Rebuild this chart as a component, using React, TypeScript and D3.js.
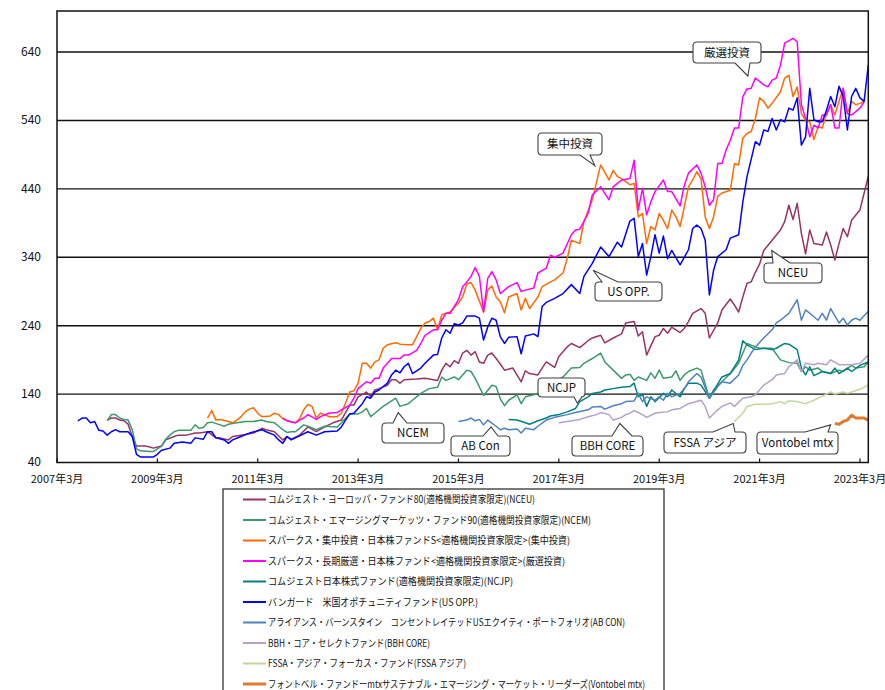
import React from 'react'
import * as d3 from 'd3'

// months counted from 2007年3月 (0) ; values = index
const nceu = [[12,102],[13,105],[14,105],[15,102],[16,101],[17,96],[18,78],[19,64],[21,64],[22,63],[23,61],[25,64],[26,73],[28,78],[29,80],[31,80],[33,83],[34,83],[36,85],[38,76],[39,76],[41,73],[42,78],[44,80],[47,83],[49,90],[50,88],[52,85],[54,73],[55,78],[56,74],[58,80],[60,92],[62,85],[64,92],[66,98],[68,102],[70,124],[71,124],[72,136],[74,143],[75,136],[76,146],[77,148],[79,153],[80,161],[81,161],[82,156],[83,161],[86,162],[88,163],[91,160],[92,175],[93,185],[94,180],[95,189],[96,185],[97,200],[98,204],[99,197],[100,202],[101,187],[102,185],[103,197],[104,200],[106,184],[107,175],[109,178],[111,158],[112,174],[113,170],[115,168],[116,178],[117,187],[119,179],[120,195],[122,209],[123,214],[125,208],[127,218],[128,222],[130,226],[131,215],[133,222],[135,228],[136,244],[138,246],[139,225],[140,231],[141,197],[143,224],[144,226],[145,236],[146,229],[147,238],[149,230],[150,236],[151,246],[152,258],[154,265],[155,258],[156,222],[158,244],[159,263],[161,279],[162,270],[163,260],[164,282],[165,302],[166,304],[167,318],[168,330],[169,350],[171,365],[173,380],[174,392],[175,416],[176,395],[177,419],[178,375],[179,345],[180,380],[181,360],[183,358],[184,377],[185,358],[186,336],[187,360],[188,382],[189,370],[190,394],[192,409],[193,434],[194,458]]

const ncem = [[12,101],[13,110],[14,110],[15,105],[16,103],[17,102],[18,88],[19,60],[20,57],[22,56],[23,56],[25,64],[26,74],[27,80],[28,85],[29,87],[32,87],[33,95],[34,90],[35,91],[36,98],[37,99],[39,95],[40,93],[41,96],[43,98],[45,100],[47,100],[49,102],[50,100],[52,98],[53,93],[54,88],[55,84],[56,85],[57,85],[58,90],[59,95],[60,93],[62,88],[64,93],[67,92],[68,98],[70,111],[72,111],[73,114],[74,119],[75,107],[76,112],[78,122],[79,126],[81,134],[82,122],[84,126],[85,131],[87,141],[89,148],[91,150],[92,165],[93,160],[95,165],[96,161],[98,175],[99,173],[100,163],[102,138],[104,153],[105,151],[106,133],[107,123],[108,131],[110,139],[111,126],[112,136],[114,139],[115,141],[117,151],[118,156],[120,161],[121,165],[123,178],[125,179],[126,185],[128,192],[130,200],[131,187],[133,175],[135,163],[136,168],[137,169],[138,160],[139,165],[141,160],[142,171],[143,163],[144,175],[145,163],[147,165],[148,174],[149,160],[150,168],[151,173],[153,178],[154,175],[156,134],[157,146],[159,158],[161,170],[163,185],[164,200],[165,214],[167,209],[168,207],[171,207],[173,190],[175,186],[177,185],[178,173],[179,180],[180,175],[182,178],[183,173],[185,170],[187,175],[188,173],[190,182],[191,178],[193,180],[194,187]]

const shuchu = [[36,105],[37,116],[38,102],[39,103],[41,100],[42,98],[43,102],[44,107],[45,114],[46,118],[47,120],[48,112],[49,107],[51,108],[52,112],[53,110],[54,104],[56,99],[57,98],[58,104],[59,117],[60,125],[61,122],[62,105],[63,112],[64,110],[65,107],[67,107],[68,112],[69,127],[70,143],[71,145],[72,156],[73,185],[74,185],[75,178],[76,187],[77,190],[78,207],[79,212],[81,215],[82,213],[84,212],[85,212],[86,224],[87,236],[88,244],[89,246],[90,251],[91,234],[92,256],[94,260],[96,273],[97,282],[98,301],[99,303],[100,292],[102,260],[103,292],[104,298],[105,282],[106,275],[107,259],[108,282],[110,287],[111,263],[112,280],[113,265],[115,282],[116,297],[118,304],[119,307],[121,317],[122,338],[123,365],[125,360],[126,392],[128,424],[130,475],[132,453],[133,467],[134,458],[135,455],[137,446],[138,448],[139,399],[140,404],[141,360],[142,385],[143,380],[144,404],[145,394],[146,382],[147,409],[148,399],[149,385],[150,414],[151,443],[152,453],[153,465],[154,455],[155,399],[156,382],[157,399],[158,429],[159,434],[161,438],[162,477],[163,475],[164,514],[165,521],[166,524],[167,543],[168,573],[169,568],[170,558],[171,565],[173,582],[174,602],[175,606],[176,575],[177,589],[178,550],[179,540],[180,538],[181,512],[182,531],[183,529],[184,550],[185,563],[186,548],[187,568],[188,587],[189,550],[190,568],[191,563],[192,565],[193,568]]

const gensen = [[54,105],[55,101],[57,98],[58,102],[59,105],[60,110],[62,103],[63,107],[65,112],[67,113],[68,117],[70,124],[71,134],[72,148],[74,158],[75,156],[76,163],[77,163],[78,178],[79,185],[80,192],[82,192],[83,197],[84,197],[86,204],[87,214],[88,226],[90,234],[91,234],[92,248],[93,258],[94,258],[96,278],[97,297],[98,304],[99,312],[100,325],[101,312],[102,260],[103,309],[104,319],[105,307],[106,287],[107,292],[108,297],[110,303],[111,290],[112,292],[114,295],[115,317],[117,324],[118,343],[119,340],[121,346],[123,373],[124,380],[125,381],[127,404],[128,431],[130,443],[132,424],[133,443],[135,453],[137,455],[138,482],[139,409],[140,441],[141,402],[142,421],[143,436],[145,453],[146,436],[147,436],[149,415],[150,445],[151,463],[153,475],[154,463],[155,443],[156,416],[157,424],[158,477],[159,477],[160,497],[161,511],[162,529],[163,529],[164,575],[165,586],[166,587],[167,602],[169,592],[170,589],[171,599],[172,602],[173,621],[174,653],[176,660],[177,655],[178,563],[179,543],[180,516],[181,533],[182,529],[183,548],[184,548],[185,563],[186,529],[187,529],[188,587],[189,550],[190,548],[191,553],[192,558],[193,567]]

const ncjp = [[108,103],[110,102],[112,98],[113,96],[115,101],[117,105],[118,108],[120,110],[122,114],[124,119],[125,129],[127,136],[128,141],[130,143],[131,146],[133,148],[135,150],[137,151],[138,156],[139,136],[140,140],[141,122],[142,136],[143,129],[145,141],[146,136],[147,146],[149,136],[150,148],[151,156],[153,156],[154,153],[156,134],[159,165],[161,170],[163,190],[164,218],[165,212],[167,205],[169,207],[171,205],[172,207],[174,214],[175,213],[177,205],[178,178],[179,168],[180,180],[181,167],[183,173],[185,170],[186,178],[187,170],[189,178],[190,173],[192,182],[194,187]]

const usOpp = [[5,101],[6,105],[7,105],[8,98],[9,100],[10,87],[11,86],[12,80],[13,85],[14,88],[15,85],[17,85],[18,78],[19,52],[20,48],[23,48],[24,52],[25,58],[27,61],[28,68],[30,70],[32,68],[33,76],[35,74],[36,85],[37,85],[38,76],[40,73],[41,68],[42,73],[44,78],[46,83],[49,88],[50,85],[52,80],[53,73],[54,68],[55,78],[56,73],[58,79],[60,85],[62,80],[64,85],[67,86],[68,92],[69,102],[70,111],[71,112],[73,126],[74,136],[75,134],[76,143],[77,146],[79,156],[80,168],[81,175],[82,171],[83,180],[84,185],[85,170],[87,178],[88,185],[90,197],[91,198],[92,222],[93,234],[94,229],[95,243],[96,241],[97,244],[98,254],[100,254],[101,251],[102,219],[103,238],[104,251],[105,248],[106,224],[107,214],[108,223],[110,224],[111,199],[112,225],[114,228],[115,224],[116,268],[117,274],[119,280],[121,287],[123,300],[125,287],[126,312],[128,331],[130,355],[132,341],[134,362],[135,355],[137,393],[138,397],[139,341],[140,360],[141,314],[142,341],[143,373],[144,346],[145,371],[146,338],[147,350],[149,329],[151,351],[152,382],[153,387],[154,382],[155,365],[156,285],[157,321],[158,341],[160,351],[161,368],[163,373],[164,421],[165,458],[167,509],[168,504],[169,526],[170,524],[171,543],[172,526],[173,541],[174,538],[175,558],[176,555],[177,573],[178,504],[179,516],[180,587],[181,541],[182,538],[183,538],[184,555],[185,575],[186,560],[187,590],[188,575],[189,526],[190,575],[191,587],[192,573],[193,568],[194,621]]

const abCon = [[96,100],[98,102],[99,105],[100,101],[101,103],[102,95],[103,102],[105,93],[106,88],[107,90],[108,88],[110,89],[111,83],[112,90],[114,88],[115,93],[117,102],[119,106],[122,110],[124,113],[127,117],[128,121],[130,122],[131,118],[133,123],[135,126],[136,129],[138,130],[139,141],[140,129],[141,136],[143,131],[144,136],[145,131],[146,141],[147,136],[149,141],[150,148],[151,158],[153,170],[154,165],[156,134],[158,151],[159,158],[161,156],[163,168],[164,182],[165,190],[166,200],[167,209],[169,222],[171,234],[172,244],[173,248],[175,258],[176,268],[177,278],[178,248],[179,263],[181,253],[182,248],[183,258],[184,248],[185,265],[187,244],[188,251],[189,241],[190,248],[191,251],[192,248],[194,261]]

const bbhCore = [[120,98],[122,100],[125,103],[127,107],[129,110],[130,113],[132,110],[133,102],[135,106],[136,110],[137,112],[138,116],[140,110],[141,106],[143,112],[144,113],[146,114],[147,117],[149,119],[151,126],[154,131],[155,122],[156,105],[158,117],[159,122],[161,127],[162,122],[164,134],[166,136],[167,139],[169,153],[171,161],[172,168],[174,170],[175,180],[177,190],[178,173],[179,185],[181,183],[182,185],[184,183],[185,190],[187,183],[188,183],[190,183],[192,185],[194,197]]

const fssa = [[162,100],[164,112],[165,122],[167,125],[169,125],[171,126],[173,129],[174,126],[175,130],[177,129],[179,126],[181,131],[182,134],[184,140],[185,143],[186,140],[188,143],[189,141],[190,143],[192,147],[194,153]]

const vontobel = [[186,97],[187,96],[188,100],[189,102],[190,109],[191,105],[193,105],[194,102]]

const seriesNames = [
  'コムジェスト・ヨーロッパ・ファンド80(適格機関投資家限定)(NCEU)',
  'コムジェスト・エマージングマーケッツ・ファンド90(適格機関投資家限定)(NCEM)',
  'スパークス・集中投資・日本株ファンドS<適格機関投資家限定>(集中投資)',
  'スパークス・長期厳選・日本株ファンド<適格機関投資家限定>(厳選投資)',
  'コムジェスト日本株式ファンド(適格機関投資家限定)(NCJP)',
  'バンガード　米国オポチュニティファンド(US OPP.)',
  'アライアンス・バーンスタイン　コンセントレイテッドUSエクイティ・ポートフォリオ(AB CON)',
  'BBH・コア・セレクトファンド(BBH CORE)',
  'FSSA・アジア・フォーカス・ファンド(FSSA アジア)',
  'フォントベル・ファンドーmtxサステナブル・エマージング・マーケット・リーダーズ(Vontobel mtx)',
]
const seriesData = [nceu, ncem, shuchu, gensen, ncjp, usOpp, abCon, bbhCore, fssa, vontobel]
const seriesColors = ['#993366', '#3A9A6A', '#FF6A00', '#FF00FF', '#008080', '#0000FF', '#4F81BD', '#B3A2C7', '#C3D69B', '#E07A2C']

const yTicks = [40, 140, 240, 340, 440, 540, 640]
const xTickMonths = [0, 24, 48, 72, 96, 120, 144, 168, 192]
const xTickLabels = ['2007年3月', '2009年3月', '2011年3月', '2013年3月', '2015年3月', '2017年3月', '2019年3月', '2021年3月', '2023年3月']

// callout labels, tip in data units
const calloutLabels = ['厳選投資', '集中投資', 'US OPP.', 'NCEU', 'NCEM', 'AB Con', 'NCJP', 'BBH CORE', 'FSSA アジア', 'Vontobel mtx']
const calloutTips = [[165.2, 605], [128.6, 474], [128.2, 321], [170.9, 350], [81.6, 113], [103.8, 92], [124.4, 127], [134.6, 97], [161.7, 97], [185, 95]]

// layout of the boxes (px)
const calloutBoxes = [
  {x: 693, y: 42, w: 68, h: 21, edge: 'bottom', b: [735, 750]},
  {x: 538, y: 133, w: 64, h: 22, edge: 'bottom', b: [580, 590]},
  {x: 595, y: 282, w: 67, h: 19, edge: 'top', b: [602, 618]},
  {x: 764, y: 263, w: 58, h: 20, edge: 'top', b: [773, 790]},
  {x: 382, y: 423, w: 62, h: 20, edge: 'top', b: [393, 407]},
  {x: 451, y: 436, w: 59, h: 20, edge: 'top', b: [483, 498]},
  {x: 538, y: 378, w: 47, h: 19, edge: 'bottom', b: [574, 582]},
  {x: 572, y: 436, w: 71, h: 20, edge: 'top', b: [612, 632]},
  {x: 664, y: 432, w: 82, h: 21, edge: 'top', b: [713, 735]},
  {x: 757, y: 432, w: 81, h: 22, edge: 'top', b: [805, 828]},
]
const legendTextWidths = [267, 323, 302, 297, 245, 210, 357, 162, 198, 377]

function calloutPath(bx, tip) {
  const r = 4
  const x0 = bx.x, y0 = bx.y, x1 = bx.x + bx.w, y1 = bx.y + bx.h
  const [bl, br] = bx.b
  let p = `M${x0 + r},${y0}`
  if (bx.edge === 'top') p += `L${bl},${y0}L${tip[0]},${tip[1]}L${br},${y0}`
  p += `L${x1 - r},${y0}Q${x1},${y0} ${x1},${y0 + r}L${x1},${y1 - r}Q${x1},${y1} ${x1 - r},${y1}`
  if (bx.edge === 'bottom') p += `L${br},${y1}L${tip[0]},${tip[1]}L${bl},${y1}`
  p += `L${x0 + r},${y1}Q${x0},${y1} ${x0},${y1 - r}L${x0},${y0 + r}Q${x0},${y0} ${x0 + r},${y0}Z`
  return p
}

const font = "'Noto Sans CJK JP', 'Noto Sans', sans-serif"

export default function App() {
  const width = 885, height = 690
  const left = 57, right = 868.3, top = 11, bottom = 462.5

  const x = d3.scaleLinear().domain([0, 194]).range([left, right])
  const y = d3.scaleLinear().domain([40, 700]).range([bottom, top])

  const line = d3.line()
    .x(d => x(d[0]))
    .y(d => y(d[1]))

  return (
    <svg width={width} height={height} style={{position: 'absolute', left: 0, top: 0, display: 'block'}}
      fontFamily={font}>
      <rect x={0} y={0} width={width} height={height} fill='white'/>

      {yTicks.slice(1).map(t =>
        <line key={t} x1={left} x2={right} y1={y(t)} y2={y(t)} stroke='#111' strokeWidth={1.4}/>
      )}
      {yTicks.map(t =>
        <text key={'yl' + t} x={41} y={y(t)} dy='0.33em' textAnchor='end' fontSize={12} fill='#111'>{t}</text>
      )}

      {xTickMonths.map((m, i) =>
        <g key={'xt' + m}>
          <line x1={x(m)} x2={x(m)} y1={bottom} y2={bottom - 4} stroke='#111' strokeWidth={1.2}/>
          <text x={x(m)} y={482.5} textAnchor='middle' fontSize={11} fill='#111'>{xTickLabels[i]}</text>
        </g>
      )}

      {seriesData.map((d, i) =>
        <path key={'s' + i} d={line(d)} fill='none' stroke={seriesColors[i]}
          strokeWidth={i === 9 ? 3 : 1.5} strokeLinejoin='round'/>
      )}

      <rect x={left} y={top} width={right - left} height={bottom - top} fill='none' stroke='#111' strokeWidth={1.5}/>

      {calloutLabels.map((lab, i) => {
        const bx = calloutBoxes[i]
        const tip = [x(calloutTips[i][0]), y(calloutTips[i][1])]
        return (
          <g key={'c' + i}>
            <path d={calloutPath(bx, tip)} fill='white' stroke='#404040' strokeWidth={1.1}/>
            <text x={bx.x + bx.w / 2} y={bx.y + bx.h / 2} dy='0.36em' textAnchor='middle'
              fontSize={11.5} fill='#111'>{lab}</text>
          </g>
        )
      })}

      <rect x={223} y={489} width={441} height={230} fill='white' stroke='#333' strokeWidth={1.3}/>
      {seriesNames.map((name, i) => {
        const ly = 499.5 + i * 20.5
        return (
          <g key={'l' + i}>
            <line x1={243} x2={266} y1={ly} y2={ly} stroke={seriesColors[i]} strokeWidth={i === 9 ? 3 : 2}/>
            <text x={268} y={ly} dy='0.35em' fontSize={10} fill='#111'
              textLength={legendTextWidths[i]} lengthAdjust='spacingAndGlyphs'>{name}</text>
          </g>
        )
      })}
    </svg>
  )
}
